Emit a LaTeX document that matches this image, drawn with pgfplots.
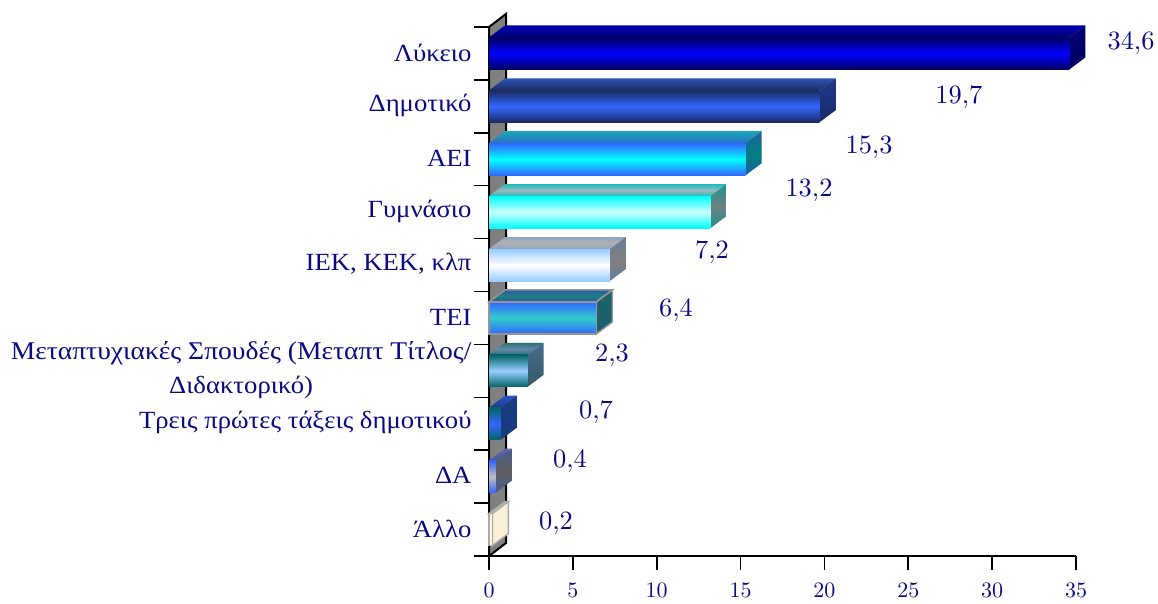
\documentclass[border=0pt]{standalone}
\usepackage{fontspec}
\setmainfont[FakeStretch=1.08]{Liberation Serif}
\usepackage{pgfplots}
\pgfplotsset{compat=1.18}

\definecolor{txt}{RGB}{10,10,130}

% faces of the fake 3D bars: f = front, t = top, s = side
% #1 edge colour, #2 middle colour
\tikzset{
  tri/.style n args={2}{top color=#1,bottom color=#1,middle color=#2},
  1f/.style={tri={blue!38!black}{blue}},
  1t/.style={top color=blue!70!black,bottom color=blue!45!black},
  1s/.style={top color=blue!47!black,bottom color=blue!38!black},
  2f/.style={tri={{rgb,255:red,26;green,42;blue,96}}{{rgb,255:red,51;green,102;blue,255}}},
  2t/.style={top color={rgb,255:red,47;green,85;blue,181},bottom color={rgb,255:red,26;green,42;blue,96}},
  2s/.style={top color={rgb,255:red,31;green,58;blue,138},bottom color={rgb,255:red,26;green,42;blue,106}},
  3f/.style={tri={{rgb,255:red,51;green,102;blue,255}}{{rgb,255:red,0;green,255;blue,255}}},
  3t/.style={top color={rgb,255:red,26;green,168;blue,184},bottom color={rgb,255:red,42;green,112;blue,200}},
  3s/.style={tri={{rgb,255:red,31;green,95;blue,160}}{{rgb,255:red,0;green,128;blue,128}}},
  4f/.style={tri={{rgb,255:red,0;green,255;blue,255}}{{rgb,255:red,204;green,255;blue,255}}},
  4t/.style={tri={{rgb,255:red,32;green,188;blue,188}}{{rgb,255:red,153;green,187;blue,187}}},
  4s/.style={tri={{rgb,255:red,26;green,144;blue,144}}{{rgb,255:red,112;green,128;blue,128}}},
  5f/.style={tri={{rgb,255:red,153;green,204;blue,255}}{white}},
  5t/.style={tri={{rgb,255:red,140;green,165;blue,195}}{{rgb,255:red,176;green,176;blue,176}}},
  5s/.style={tri={{rgb,255:red,104;green,125;blue,154}}{{rgb,255:red,128;green,128;blue,128}}},
  6f/.style={tri={{rgb,255:red,51;green,102;blue,255}}{{rgb,255:red,51;green,204;blue,204}}},
  6t/.style={tri={{rgb,255:red,42;green,90;blue,168}}{{rgb,255:red,31;green,128;blue,128}}},
  6s/.style={top color={rgb,255:red,26;green,102;blue,102},bottom color={rgb,255:red,26;green,90;blue,112}},
  7f/.style={tri={{rgb,255:red,0;green,102;blue,102}}{{rgb,255:red,153;green,204;blue,255}}},
  7t/.style={tri={{rgb,255:red,40;green,112;blue,120}}{{rgb,255:red,102;green,136;blue,170}}},
  7s/.style={top color={rgb,255:red,74;green,106;blue,138},bottom color={rgb,255:red,51;green,90;blue,106}},
  8f/.style={tri={{rgb,255:red,0;green,102;blue,102}}{{rgb,255:red,51;green,102;blue,255}}},
  8t/.style={top color={rgb,255:red,42;green,85;blue,192},bottom color={rgb,255:red,26;green,58;blue,144}},
  8s/.style={top color={rgb,255:red,26;green,58;blue,128},bottom color={rgb,255:red,26;green,58;blue,128}},
  9f/.style={tri={{rgb,255:red,51;green,102;blue,255}}{{rgb,255:red,192;green,192;blue,192}}},
  9t/.style={top color={rgb,255:red,90;green,106;blue,154},bottom color={rgb,255:red,70;green,90;blue,170}},
  9s/.style={tri={{rgb,255:red,74;green,90;blue,144}}{{rgb,255:red,96;green,96;blue,96}}},
  10f/.style={fill={rgb,255:red,255;green,245;blue,220}},
  10t/.style={fill={rgb,255:red,250;green,240;blue,215}},
  10s/.style={fill={rgb,255:red,250;green,240;blue,215}},
}

% #1 value, #2 y centre, #3 style prefix, #4 edge options
\newcommand{\threedbar}[4]{%
  \pgfmathsetmacro{\xb}{#1+0.96}%
  \pgfmathsetmacro{\yt}{#2+0.3025}%
  \pgfmathsetmacro{\yo}{#2-0.3025}%
  \pgfmathsetmacro{\ybt}{#2+0.5295}%
  \pgfmathsetmacro{\ybo}{#2-0.0755}%
  \addplot[draw=none,#4,#3t] coordinates {(0,\yt) (0.96,\ybt) (\xb,\ybt) (#1,\yt)} -- cycle;
  \addplot[draw=none,#4,#3s] coordinates {(#1,\yt) (\xb,\ybt) (\xb,\ybo) (#1,\yo)} -- cycle;
  \addplot[draw=none,#4,#3f] coordinates {(0,\yo) (#1,\yo) (#1,\yt) (0,\yt)} -- cycle;
}

\begin{document}
\begin{tikzpicture}[x=1pt,y=1pt]
  \path[use as bounding box] (0,0) rectangle (1158,603);
  \begin{axis}[
    at={(489pt,47pt)}, anchor=south west,
    scale only axis,
    width=587pt, height=529pt,
    xmin=0, xmax=35, ymin=0, ymax=10,
    clip=false,
    axis x line=bottom,
    axis y line=left,
    axis line style={-,black,line width=2pt},
    tick align=outside,
    xtick={0,5,...,35},
    ytick={0.5,1.5,2.5,3.5,4.5,5.5,6.5,7.5,8.5,9.5},
    minor ytick={0,1,...,10},
    yticklabels={Άλλο,ΔΑ,Τρεις πρώτες τάξεις δημοτικού,{\fontsize{25.5}{34}\selectfont Μεταπτυχιακές Σπουδές (Μεταπτ Τίτλος/\\Διδακτορικό)},ΤΕΙ,{ΙΕΚ, ΚΕΚ, κλπ},Γυμνάσιο,ΑΕΙ,Δημοτικό,Λύκειο},
    major tick length=14pt,
    minor tick length=15pt,
    major y tick style={draw=none},
    minor y tick style={black,line width=1.6pt},
    x tick style={black,line width=1.6pt},
    y tick label style={font=\fontsize{24.7}{34}\selectfont,text=txt,align=center,yshift=1pt},
    x tick label style={font=\fontsize{10}{12}\selectfont,text=txt,scale=2.2,yshift=-2.5pt},
  ]
    % back wall
    \addplot[fill={rgb,255:red,128;green,128;blue,128},draw=black,line width=2pt]
      coordinates {(0,0) (1.014,0.246) (1.014,10.246) (0,10)} -- cycle;

    \threedbar{34.6}{9.5}{1}{}
    \threedbar{19.7}{8.5}{2}{}
    \threedbar{15.3}{7.5}{3}{}
    \threedbar{13.2}{6.5}{4}{}
    \threedbar{7.2}{5.5}{5}{}
    \threedbar{6.4}{4.5}{6}{draw={rgb,255:red,150;green,150;blue,150},line width=1.5pt}
    \threedbar{2.3}{3.5}{7}{}
    \threedbar{0.7}{2.5}{8}{}
    \threedbar{0.4}{1.5}{9}{}
    \threedbar{0.2}{0.5}{10}{draw={rgb,255:red,170;green,170;blue,170},line width=1.5pt}

    % value labels
    \begin{scope}[every node/.style={text=txt,font=\fontsize{10}{12}\selectfont,scale=2.64,inner sep=0pt}]
      \node at (axis cs:38.28,9.68) {$34{,}6$};
      \node at (axis cs:28.02,8.66) {$19{,}7$};
      \node at (axis cs:22.66,7.715) {$15{,}3$};
      \node at (axis cs:19.08,6.90) {$13{,}2$};
      \node at (axis cs:13.30,5.73) {$7{,}2$};
      \node at (axis cs:11.15,4.634) {$6{,}4$};
      \node at (axis cs:7.33,3.783) {$2{,}3$};
      \node at (axis cs:6.38,2.706) {$0{,}7$};
      \node at (axis cs:4.83,1.78) {$0{,}4$};
      \node at (axis cs:3.99,0.608) {$0{,}2$};
    \end{scope}
  \end{axis}
\end{tikzpicture}
\end{document}
